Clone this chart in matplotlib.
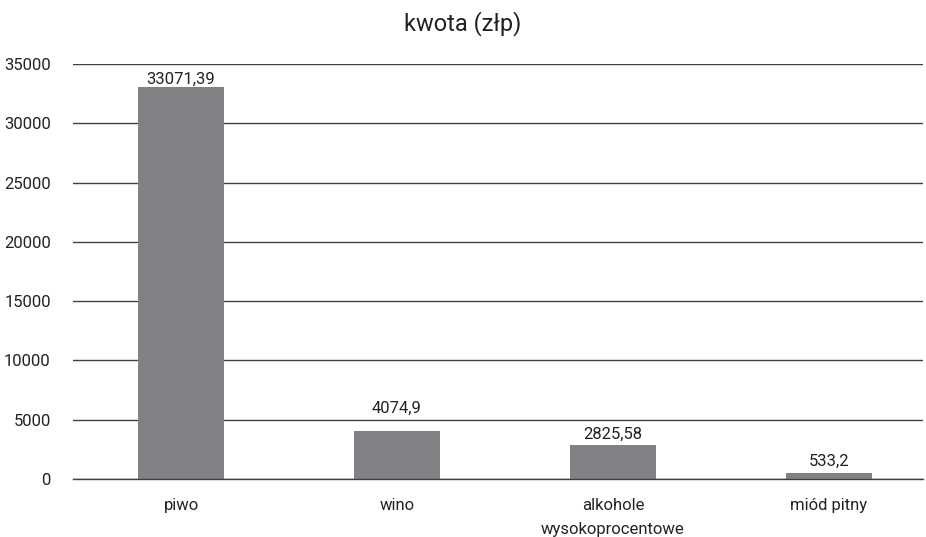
import matplotlib
matplotlib.use('Agg')
import matplotlib.pyplot as plt
import numpy as np

# dane
kategorie = ['piwo', 'wino', 'alkohole\nwysokoprocentowe', 'miód pitny']
kwoty = [33071.39, 4074.9, 2825.58, 533.2]
etykiety = ['33071,39', '4074,9', '2825,58', '533,2']
tytul = 'kwota (złp)'

plt.rcParams['font.family'] = ['Roboto', 'DejaVu Sans']

fig = plt.figure(figsize=(9.26, 5.37), dpi=100)
ax = fig.add_axes([73/926, 1 - 479/537, 850/926, (479 - 64)/537])

x = np.arange(len(kategorie))
bars = ax.bar(x, kwoty, width=0.4, color='#808184', zorder=3)
# etykieta "wino" wypchnieta nad linie siatki, jak w oryginale
przesuniecia = [-2, 9, 1, 1]
for b, t, p in zip(bars, etykiety, przesuniecia):
    ax.annotate(t, (b.get_x() + b.get_width() / 2, b.get_height()),
                xytext=(0, 2 + p), textcoords='offset points',
                ha='center', va='bottom', fontsize=12, color='#222222', zorder=5)

ax.set_ylim(0, 35000)
ax.set_xlim(-0.5, 3.435)
ax.set_yticks(np.arange(0, 35001, 5000))
ax.set_xticks(x)
ax.set_xticklabels(kategorie, fontsize=12, color='#222222', linespacing=1.7)
ax.tick_params(axis='y', labelsize=12, colors='#222222', length=0, pad=16)
ax.tick_params(axis='x', length=0, pad=14)
ax.yaxis.grid(True, color='#404040', linewidth=1, zorder=0)
ax.axhline(0, color='#404040', linewidth=1, zorder=4, clip_on=False)
for s in ax.spines.values():
    s.set_visible(False)

fig.text(0.5, 1 - 24/537, tytul, ha='center', va='center', fontsize=17, color='#222222')

fig.savefig('out.png', dpi=100)
